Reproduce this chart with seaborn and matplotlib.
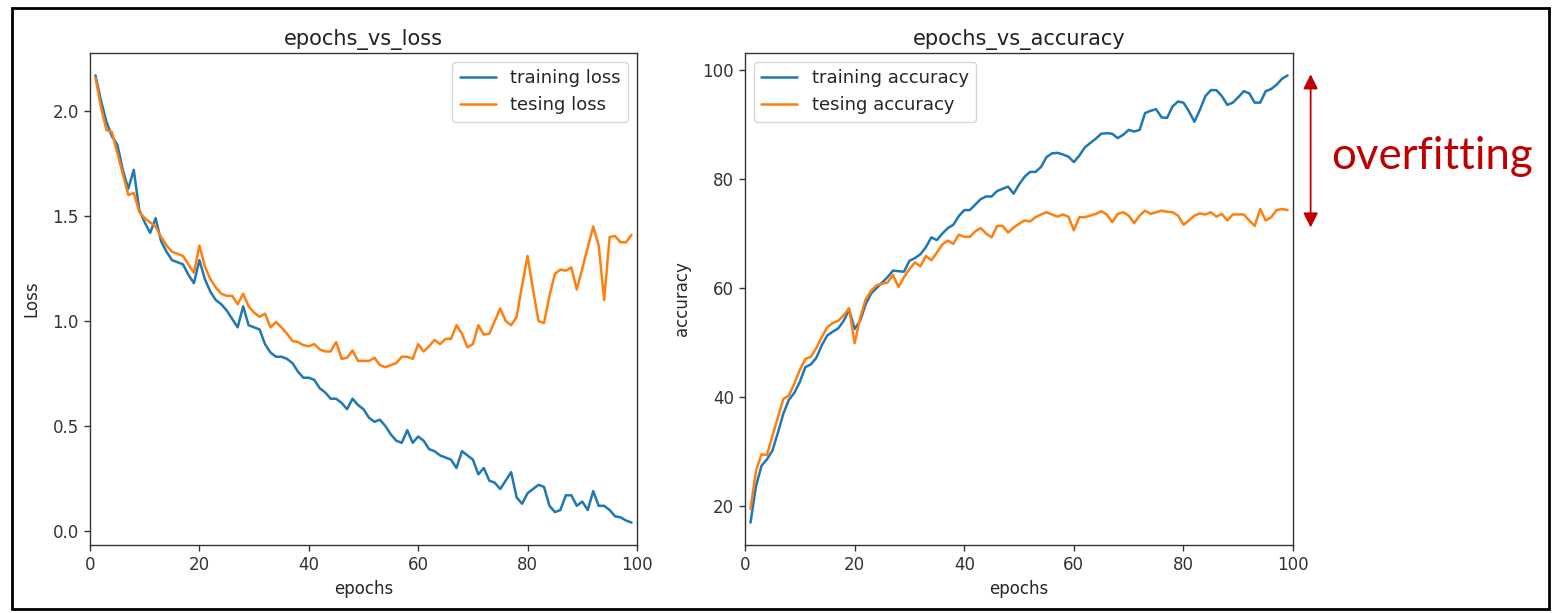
import numpy as np
import matplotlib
matplotlib.use("Agg")
import matplotlib.pyplot as plt
import seaborn as sns
from matplotlib.patches import Rectangle

epochs = list(range(1, 100))

train_loss = [2.17, 2.05, 1.95, 1.88, 1.84, 1.72, 1.63, 1.72, 1.53, 1.47,
              1.42, 1.49, 1.38, 1.33, 1.29, 1.28, 1.27, 1.22, 1.18, 1.29,
              1.20, 1.14, 1.10, 1.08, 1.05, 1.01, 0.97, 1.07, 0.98, 0.97,
              0.96, 0.89, 0.85, 0.83, 0.83, 0.82, 0.80, 0.76, 0.73, 0.73,
              0.72, 0.68, 0.66, 0.63, 0.63, 0.61, 0.58, 0.63, 0.60, 0.58,
              0.54, 0.52, 0.53, 0.50, 0.46, 0.43, 0.42, 0.48, 0.42, 0.45,
              0.43, 0.39, 0.38, 0.36, 0.35, 0.34, 0.30, 0.38, 0.36, 0.34,
              0.27, 0.30, 0.24, 0.23, 0.20, 0.24, 0.28, 0.16, 0.13, 0.18,
              0.20, 0.22, 0.21, 0.12, 0.09, 0.10, 0.17, 0.17, 0.12, 0.14,
              0.10, 0.19, 0.12, 0.12, 0.10, 0.07, 0.065, 0.05, 0.04]

test_loss = [2.16, 2.02, 1.91, 1.90, 1.80, 1.70, 1.60, 1.61, 1.52, 1.49,
             1.47, 1.45, 1.40, 1.36, 1.33, 1.32, 1.31, 1.27, 1.23, 1.36,
             1.26, 1.20, 1.16, 1.13, 1.12, 1.12, 1.08, 1.13, 1.07, 1.04,
             1.02, 1.035, 0.97, 0.995, 0.97, 0.94, 0.905, 0.90, 0.885, 0.88,
             0.89, 0.865, 0.855, 0.855, 0.90, 0.82, 0.825, 0.86, 0.81, 0.81,
             0.81, 0.825, 0.79, 0.78, 0.79, 0.80, 0.83, 0.83, 0.82, 0.89,
             0.855, 0.88, 0.91, 0.89, 0.915, 0.915, 0.98, 0.94, 0.875, 0.89,
             0.98, 0.935, 0.94, 1.00, 1.06, 1.00, 0.98, 1.02, 1.17, 1.31,
             1.15, 1.00, 0.99, 1.12, 1.225, 1.245, 1.24, 1.255, 1.15, 1.25,
             1.35, 1.45, 1.36, 1.10, 1.40, 1.405, 1.375, 1.375, 1.41]

train_acc = [17.0, 23.7, 27.4, 28.6, 30.2, 33.5, 37.0, 39.5, 40.8, 42.8,
             45.5, 46.0, 47.2, 49.5, 51.3, 52.0, 52.6, 54.0, 56.0, 52.5,
             54.0, 57.0, 59.0, 60.0, 61.0, 62.0, 63.2, 63.1, 63.0, 65.0,
             65.5, 66.2, 67.5, 69.3, 68.8, 70.0, 71.0, 71.6, 73.2, 74.3,
             74.3, 75.3, 76.3, 76.8, 76.8, 77.8, 78.2, 78.6, 77.3, 79.0,
             80.4, 81.3, 81.3, 82.2, 84.0, 84.7, 84.8, 84.5, 84.1, 83.1,
             84.3, 85.8, 86.6, 87.4, 88.3, 88.4, 88.3, 87.5, 88.1, 89.0,
             88.7, 89.0, 92.1, 92.5, 92.8, 91.3, 91.2, 93.3, 94.2, 94.0,
             92.4, 90.5, 92.7, 95.2, 96.3, 96.3, 95.2, 93.6, 94.0, 95.0,
             96.1, 95.7, 94.0, 94.0, 96.1, 96.5, 97.3, 98.4, 99.0]

test_acc = [19.5, 26.5, 29.5, 29.4, 32.9, 36.3, 39.7, 40.3, 42.5, 45.0,
            47.0, 47.4, 49.0, 51.0, 52.8, 53.6, 54.0, 55.0, 56.3, 49.9,
            54.5, 57.9, 59.5, 60.5, 60.8, 61.0, 62.4, 60.2, 62.0, 63.5,
            64.7, 64.0, 65.9, 65.1, 66.5, 68.0, 68.7, 68.1, 69.8, 69.4,
            69.4, 70.4, 71.0, 70.0, 69.3, 71.4, 71.4, 70.2, 71.1, 71.8,
            72.4, 72.2, 73.0, 73.5, 73.9, 73.5, 73.1, 73.5, 73.1, 70.6,
            73.0, 73.0, 73.3, 73.6, 74.1, 73.5, 72.1, 73.6, 73.9, 73.3,
            71.9, 73.3, 74.2, 73.6, 73.9, 74.2, 74.0, 73.9, 73.3, 71.6,
            72.4, 73.3, 73.7, 73.5, 73.9, 73.1, 73.6, 72.4, 73.5, 73.5,
            73.5, 72.4, 71.4, 74.5, 72.4, 73.0, 74.3, 74.5, 74.3]

blue = "#1f77b4"
orange = "#ff7f0e"
red = "#c00000"

sns.set_style("ticks")
plt.rcParams['font.family'] = ['DejaVu Sans']
plt.rcParams['axes.edgecolor'] = '#333333'
plt.rcParams['axes.linewidth'] = 1.0
plt.rcParams['xtick.major.width'] = 1.0
plt.rcParams['ytick.major.width'] = 1.0
plt.rcParams['xtick.major.size'] = 4.5
plt.rcParams['ytick.major.size'] = 4.5

fig = plt.figure(figsize=(15.57, 6.13), dpi=100)
ax1 = fig.add_axes([0.0578, 0.111, 0.3513, 0.8025])
ax2 = fig.add_axes([0.4785, 0.111, 0.352, 0.8025])

sns.lineplot(x=epochs, y=train_loss, ax=ax1, color=blue, linewidth=1.8, label="training loss")
sns.lineplot(x=epochs, y=test_loss, ax=ax1, color=orange, linewidth=1.8, label="tesing loss")
ax1.set_xlim(0, 100)
ax1.set_xticks([0, 20, 40, 60, 80, 100])
ax1.set_yticks([0.0, 0.5, 1.0, 1.5, 2.0])
ax1.set_title("epochs_vs_loss", fontsize=15, color='#222222')
ax1.set_xlabel("epochs", fontsize=12)
ax1.set_ylabel("Loss", fontsize=12, labelpad=9)
ax1.legend(loc="upper right", fontsize=13, framealpha=0.8)

sns.lineplot(x=epochs, y=train_acc, ax=ax2, color=blue, linewidth=1.8, label="training accuracy")
sns.lineplot(x=epochs, y=test_acc, ax=ax2, color=orange, linewidth=1.8, label="tesing accuracy")
ax2.set_xlim(0, 100)
ax2.set_xticks([0, 20, 40, 60, 80, 100])
ax2.set_yticks([20, 40, 60, 80, 100])
ax2.set_title("epochs_vs_accuracy", fontsize=15, color='#222222')
ax2.set_xlabel("epochs", fontsize=12)
ax2.set_ylabel("accuracy", fontsize=12, labelpad=8)
ax2.legend(loc="upper left", fontsize=13, framealpha=0.8)

for ax in (ax1, ax2):
    ax.tick_params(labelsize=12, colors='#333333')

# overfitting gap marker
ax2.annotate("", xy=(103.2, 99.2), xytext=(103.2, 71.1), xycoords="data",
             arrowprops=dict(arrowstyle="<|-|>", color=red, lw=1.3,
                             mutation_scale=22, shrinkA=0, shrinkB=0),
             annotation_clip=False)
fig.text(0.855, 0.745, "overfitting", color=red, fontsize=31.5,
         family=['Lato', 'DejaVu Sans'], va="center", ha="left")

# outer frame
fig.patches.append(Rectangle((12 / 1557, 4 / 613), 1537 / 1557, 601 / 613,
                             transform=fig.transFigure, fill=False,
                             edgecolor="black", linewidth=2))

fig.savefig("out.png", dpi=100)
